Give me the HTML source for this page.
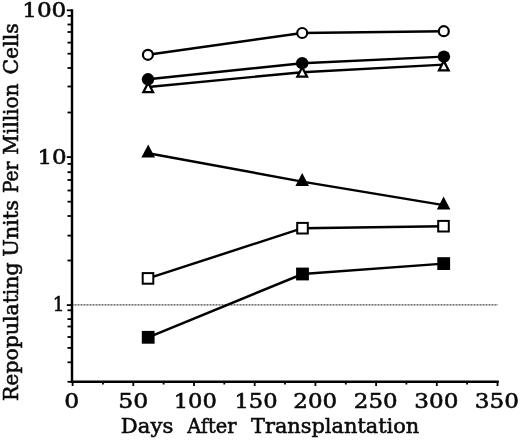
<!DOCTYPE html><html><head><meta charset="utf-8"><title>Repopulating Units Per Million Cells</title>
<style>html,body{margin:0;padding:0;background:#fff}svg{display:block}text{font-family:"DejaVu Serif", "Liberation Serif", serif;font-size:20.0px;fill:#0a0a0a;stroke:#0a0a0a;stroke-width:0.55px}</style></head><body>
<svg width="520" height="441" viewBox="0 0 520 441">
<rect width="520" height="441" fill="#fff"/>
<line x1="72.0" y1="304.9" x2="497.5" y2="304.9" stroke="#444" stroke-width="1.4" stroke-dasharray="1 0.5"/>
<path d="M72.0 9.3 V381.7 H498.8" stroke="#000" stroke-width="2.45" fill="none"/>
<g stroke="#000" stroke-width="1.8">
<line x1="67.5" y1="381.8" x2="72.0" y2="381.8"/>
<line x1="67.5" y1="362.3" x2="72.0" y2="362.3"/>
<line x1="67.5" y1="347.9" x2="72.0" y2="347.9"/>
<line x1="67.5" y1="337.0" x2="72.0" y2="337.0"/>
<line x1="67.5" y1="326.5" x2="72.0" y2="326.5"/>
<line x1="67.5" y1="319.1" x2="72.0" y2="319.1"/>
<line x1="67.5" y1="310.3" x2="72.0" y2="310.3"/>
<line x1="66.8" y1="305.1" x2="72.0" y2="305.1"/>
<line x1="67.5" y1="260.5" x2="72.0" y2="260.5"/>
<line x1="67.5" y1="235.6" x2="72.0" y2="235.6"/>
<line x1="67.5" y1="216.0" x2="72.0" y2="216.0"/>
<line x1="67.5" y1="201.7" x2="72.0" y2="201.7"/>
<line x1="67.5" y1="190.5" x2="72.0" y2="190.5"/>
<line x1="67.5" y1="180.0" x2="72.0" y2="180.0"/>
<line x1="67.5" y1="172.2" x2="72.0" y2="172.2"/>
<line x1="67.5" y1="163.9" x2="72.0" y2="163.9"/>
<line x1="66.8" y1="157.1" x2="72.0" y2="157.1"/>
<line x1="67.5" y1="112.5" x2="72.0" y2="112.5"/>
<line x1="67.5" y1="86.5" x2="72.0" y2="86.5"/>
<line x1="67.5" y1="68.0" x2="72.0" y2="68.0"/>
<line x1="67.5" y1="53.7" x2="72.0" y2="53.7"/>
<line x1="67.5" y1="42.6" x2="72.0" y2="42.6"/>
<line x1="67.5" y1="32.0" x2="72.0" y2="32.0"/>
<line x1="67.5" y1="24.5" x2="72.0" y2="24.5"/>
<line x1="67.5" y1="15.9" x2="72.0" y2="15.9"/>
<line x1="66.8" y1="10.3" x2="72.0" y2="10.3"/>
<line x1="72.6" y1="381.7" x2="72.6" y2="386.0"/>
<line x1="102.9" y1="381.7" x2="102.9" y2="384.5"/>
<line x1="133.3" y1="381.7" x2="133.3" y2="386.0"/>
<line x1="163.6" y1="381.7" x2="163.6" y2="384.5"/>
<line x1="194.0" y1="381.7" x2="194.0" y2="386.0"/>
<line x1="224.3" y1="381.7" x2="224.3" y2="384.5"/>
<line x1="254.7" y1="381.7" x2="254.7" y2="386.0"/>
<line x1="285.0" y1="381.7" x2="285.0" y2="384.5"/>
<line x1="315.4" y1="381.7" x2="315.4" y2="386.0"/>
<line x1="345.8" y1="381.7" x2="345.8" y2="384.5"/>
<line x1="376.1" y1="381.7" x2="376.1" y2="386.0"/>
<line x1="406.4" y1="381.7" x2="406.4" y2="384.5"/>
<line x1="436.8" y1="381.7" x2="436.8" y2="386.0"/>
<line x1="467.1" y1="381.7" x2="467.1" y2="384.5"/>
<line x1="497.5" y1="381.7" x2="497.5" y2="386.0"/>
</g>
<path d="M147.9 54.8 L302.2 33.0 L443.8 31.2" fill="none" stroke="#000" stroke-width="2.45"/>
<circle cx="147.9" cy="54.8" r="5.0" fill="#fff" stroke="#000" stroke-width="2.2"/>
<circle cx="302.2" cy="33.0" r="5.0" fill="#fff" stroke="#000" stroke-width="2.2"/>
<circle cx="443.8" cy="31.2" r="5.0" fill="#fff" stroke="#000" stroke-width="2.2"/>
<path d="M148.2 87.0 L302.2 72.2 L443.8 64.6" fill="none" stroke="#000" stroke-width="2.45"/>
<path d="M148.20 80.30 L154.90 93.30 L141.50 93.30 Z" fill="#000"/><path d="M148.20 85.32 L151.13 91.00 L145.27 91.00 Z" fill="#fff"/>
<path d="M302.20 64.70 L308.90 77.70 L295.50 77.70 Z" fill="#000"/><path d="M302.20 69.72 L305.13 75.40 L299.27 75.40 Z" fill="#fff"/>
<path d="M443.80 58.50 L450.50 71.50 L437.10 71.50 Z" fill="#000"/><path d="M443.80 63.52 L446.73 69.20 L440.87 69.20 Z" fill="#fff"/>
<path d="M148.0 79.3 L302.2 63.2 L443.9 56.6" fill="none" stroke="#000" stroke-width="2.45"/>
<circle cx="148.0" cy="79.3" r="6.2" fill="#000"/>
<circle cx="302.2" cy="63.2" r="6.2" fill="#000"/>
<circle cx="443.9" cy="56.6" r="6.2" fill="#000"/>
<path d="M148.2 153.3 L302.2 181.6 L443.6 205.1" fill="none" stroke="#000" stroke-width="2.45"/>
<path d="M148.20 144.60 L155.00 157.60 L141.40 157.60 Z" fill="#000"/>
<path d="M302.20 172.90 L309.00 185.90 L295.40 185.90 Z" fill="#000"/>
<path d="M443.60 196.40 L450.40 209.40 L436.80 209.40 Z" fill="#000"/>
<path d="M148.0 278.4 L302.5 228.2 L443.5 226.2" fill="none" stroke="#000" stroke-width="2.45"/>
<rect x="142.7" y="273.1" width="10.6" height="10.6" fill="#fff" stroke="#000" stroke-width="2"/>
<rect x="297.2" y="222.9" width="10.6" height="10.6" fill="#fff" stroke="#000" stroke-width="2"/>
<rect x="438.2" y="220.9" width="10.6" height="10.6" fill="#fff" stroke="#000" stroke-width="2"/>
<path d="M148.2 337.3 L302.5 274.0 L443.7 263.6" fill="none" stroke="#000" stroke-width="2.45"/>
<rect x="141.8" y="330.9" width="12.8" height="12.8" fill="#000"/>
<rect x="296.1" y="267.6" width="12.8" height="12.8" fill="#000"/>
<rect x="437.3" y="257.2" width="12.8" height="12.8" fill="#000"/>
<text transform="translate(22.15 17.00) scale(1.1591 1)">100</text>
<text transform="translate(37.48 163.80) scale(1.1494 1)">10</text>
<text transform="translate(52.85 311.30) scale(0.9200 1)">1</text>
<text transform="translate(64.29 407.7) scale(1.1707 1)">0</text>
<text transform="translate(118.19 407.7) scale(1.1778 1)">50</text>
<text transform="translate(173.67 407.7) scale(1.1314 1)">100</text>
<text transform="translate(234.42 407.7) scale(1.1314 1)">150</text>
<text transform="translate(293.32 407.7) scale(1.1479 1)">200</text>
<text transform="translate(353.82 407.7) scale(1.1479 1)">250</text>
<text transform="translate(414.27 407.7) scale(1.1560 1)">300</text>
<text transform="translate(474.77 407.7) scale(1.1560 1)">350</text>
<text y="433.4"><tspan x="120.89" textLength="52.45" lengthAdjust="spacingAndGlyphs">Days</tspan> <tspan x="187.15" textLength="49.34" lengthAdjust="spacingAndGlyphs">After</tspan> <tspan x="250.99" textLength="168.33" lengthAdjust="spacingAndGlyphs">Transplantation</tspan></text>
<text transform="translate(17.5 400.3) rotate(-90)" y="0"><tspan x="-0.77" textLength="138.64" lengthAdjust="spacingAndGlyphs">Repopulating</tspan> <tspan x="143.51" textLength="56.61" lengthAdjust="spacingAndGlyphs">Units</tspan> <tspan x="207.22" textLength="31.60" lengthAdjust="spacingAndGlyphs">Per</tspan> <tspan x="245.55" textLength="71.31" lengthAdjust="spacingAndGlyphs">Million</tspan> <tspan x="325.77" textLength="51.25" lengthAdjust="spacingAndGlyphs">Cells</tspan></text>
</svg></body></html>
